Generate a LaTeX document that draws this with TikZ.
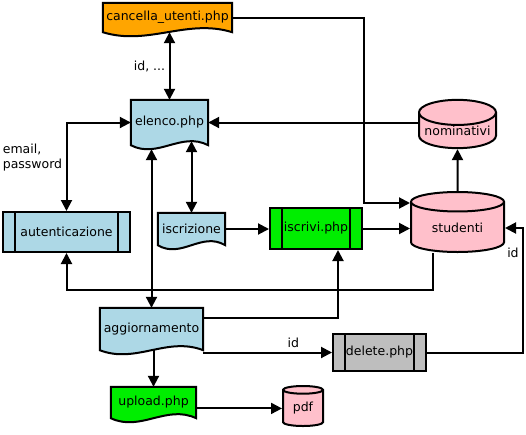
\documentclass[tikz,border=0pt]{standalone}
\usepackage{fontspec}
\setmainfont{DejaVu Sans}
\usepackage{tikz}
\usetikzlibrary{positioning, shapes.geometric, arrows.meta, backgrounds, calc}
\definecolor{arancio}{HTML}{FFA500}
\definecolor{azzurro}{HTML}{ADD8E6}
\definecolor{rosa}{HTML}{FFC0CB}
\definecolor{verde}{HTML}{00EE00}
\definecolor{grigio}{HTML}{BEBEBE}

\newcommand{\foglio}[2]{%
  \draw[line width=2pt, fill=#2] (#1.south west) -- (#1.north west) -- (#1.north east) -- (#1.south east)
    .. controls ($(#1.south east)!0.35!(#1.south west)+(0,14pt)$) and ($(#1.south east)!0.65!(#1.south west)+(0,-14pt)$) .. (#1.south west) -- cycle;}

\begin{document}
\begin{tikzpicture}[
    x=1pt, y=-1pt,
    font=\fontsize{12.5}{15}\selectfont,
    documento/.style={
        rectangle,
        inner sep=2pt,
        align=center,
    },
    processo/.style={
        rectangle,
        draw,
        line width=2pt,
        inner sep=2pt,
        align=center,
        path picture={
            \draw[line width=2pt] ([xshift=12pt]path picture bounding box.north west) -- ([xshift=12pt]path picture bounding box.south west);
            \draw[line width=2pt] ([xshift=-12pt]path picture bounding box.north east) -- ([xshift=-12pt]path picture bounding box.south east);
        },
    },
    archivio/.style={
        cylinder,
        shape border rotate=90,
        aspect=0.38,
        anchor=shape center,
        draw,
        line width=2pt,
        fill=rosa,
        inner sep=0pt,
    },
    freccia/.style={-{Triangle[length=11pt,width=11pt]}, line width=2pt},
    doppia/.style={{Triangle[length=11pt,width=11pt]}-{Triangle[length=11pt,width=11pt]}, line width=2pt},
]
\useasboundingbox (0,0) rectangle (526,434);

\node[documento, minimum width=129pt, minimum height=29pt] (cancella) at (167.5,17.5) {cancella\_utenti.php};
\node[documento, minimum width=77pt, minimum height=45pt] (elenco) at (169.5,122.5) {elenco.php};
\node[documento, minimum width=67pt, minimum height=32pt] (iscrizione) at (191.5,229) {iscrizione};
\node[documento, minimum width=103pt, minimum height=42pt] (aggiornamento) at (151.5,329) {aggiornamento};
\node[documento, minimum width=85pt, minimum height=31pt] (upload) at (153.5,402.5) {upload.php};

\node[processo, fill=azzurro, minimum width=127pt, minimum height=40pt] (autenticazione) at (66.5,232) {autenticazione};
\node[processo, fill=verde, minimum width=92pt, minimum height=41pt] (iscrivi) at (316,228.5) {iscrivi.php};
\node[processo, fill=grigio, minimum width=93pt, minimum height=37pt] (delete) at (379.5,352.5) {delete.php};

\node[archivio, minimum width=77pt, minimum height=42pt] (nominativi) at (457.5,124) {nominativi};
\node[archivio, minimum width=93pt, minimum height=60pt] (studenti) at (457.5,222) {studenti};
\node[archivio, minimum width=40pt, minimum height=40pt] (pdf) at (303,406) {pdf};

\begin{scope}[on background layer]
\foglio{cancella}{arancio}
\foglio{elenco}{azzurro}
\foglio{iscrizione}{azzurro}
\foglio{aggiornamento}{azzurro}
\foglio{upload}{verde}
\end{scope}

\coordinate (curvaA) at (364,203);
\coordinate (curvaB) at (433,290);
\coordinate (curvaC) at (338,318);
\coordinate (curvaD) at (523,228);

\draw[doppia] (elenco.north) -- node[left] {id, ...} (elenco.north |- cancella.south);
\draw[doppia] (autenticazione.north) |- node[pos=0.3, left, align=left] {email,\\password} (elenco.west);
\draw[freccia] (nominativi.west |- elenco.east) -- (elenco.east);
\draw[freccia] (studenti.north) -- (nominativi.south);
\draw[freccia] (cancella.east) -| (curvaA) -- (curvaA -| studenti.west);
\draw[freccia] (iscrivi.east) -- (iscrivi.east -| studenti.west);
\draw[freccia] (iscrizione.east) -- (iscrizione.east -| iscrivi.west);
\draw[doppia] (iscrizione.north) -- ([yshift=4pt]iscrizione.north |- elenco.south);
\draw[doppia] (aggiornamento.north) -- ([yshift=-4pt]aggiornamento.north |- elenco.south);
\draw[freccia] (curvaB |- studenti.south) -- (curvaB) -| (autenticazione.south);
\draw[freccia] (curvaC -| aggiornamento.east) -- (curvaC) -- (curvaC |- iscrivi.south);
\draw[freccia] (delete.west -| aggiornamento.east) -- node[pos=0.7, above] {id} (delete.west);
\draw[freccia] (delete.east) -| node[pos=0.9, left] {id} (curvaD) -- (curvaD -| studenti.east);
\draw[freccia] (upload.north |- aggiornamento.south) -- (upload.north);
\draw[freccia] (pdf.west -| upload.east) -- (pdf.west);

\end{tikzpicture}
\end{document}
